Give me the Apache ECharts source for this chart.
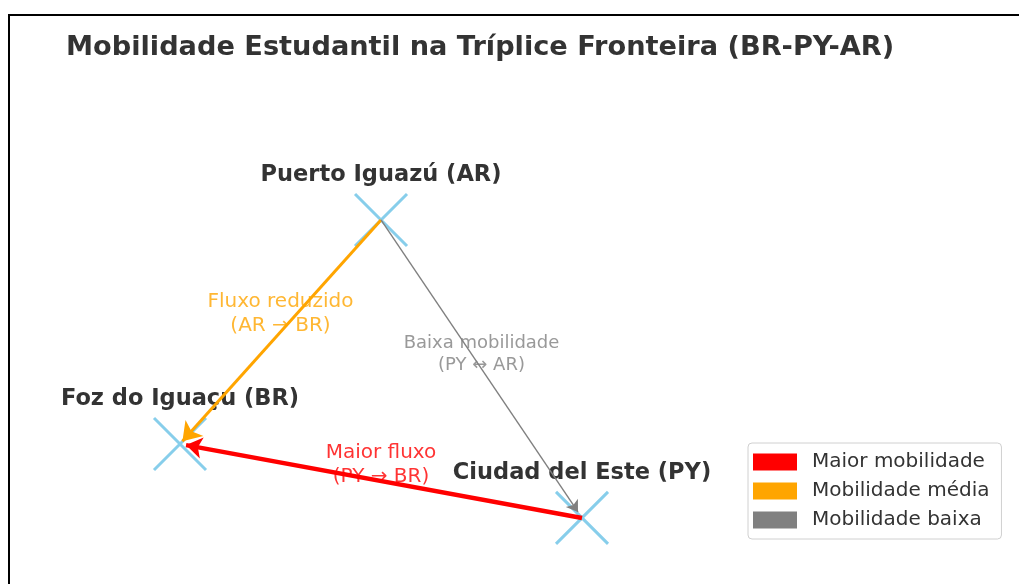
<!DOCTYPE html>
<html>
<head>
<meta charset="utf-8">
<script src="https://cdn.jsdelivr.net/npm/echarts@6/dist/echarts.min.js"></script>
<style>html,body{margin:0;padding:0;background:#fff;}#chart{width:1019px;height:584px;}</style>
</head>
<body>
<div id="chart"></div>
<script>
// ---- data ----
const cities = ['Foz do Iguaçu (BR)', 'Puerto Iguazú (AR)', 'Ciudad del Este (PY)'];
const cityX = [0, 1, 2];
const cityY = [0, 1, -0.33];

const flowNames = ['Maior mobilidade', 'Mobilidade média', 'Mobilidade baixa'];
const flowFrom = [2, 1, 1];
const flowTo = [0, 0, 2];
const flowColors = ['#FF0000', '#FFA500', '#808080'];

const noteTexts = ['Maior fluxo\n(PY → BR)', 'Fluxo reduzido\n(AR → BR)', 'Baixa mobilidade\n(PY ↔ AR)'];
const noteX = [1.0, 0.5, 1.5];
const noteY = [-0.094, 0.58, 0.402];

// ---- chart ----
const FONT = 'DejaVu Sans';
const chart = echarts.init(document.getElementById('chart'), null, {renderer: 'canvas'});

const lineWidths = [4.5, 3, 1.4];
const arrowSizes = [[18, 16], [18, 18], [11, 11]];
const noteSizes = [20, 20, 18];
const noteLH = [24, 24, 22];
const shrink = [0.015, 0.012, 0.02];

const flowSeries = flowNames.map((name, i) => {
  const a = flowFrom[i], b = flowTo[i];
  const x0 = cityX[a], y0 = cityY[a];
  const x1 = cityX[b] + (cityX[a] - cityX[b]) * shrink[i];
  const y1 = cityY[b] + (cityY[a] - cityY[b]) * shrink[i];
  return {
    name: name,
    type: 'lines',
    coordinateSystem: 'cartesian2d',
    clip: false,
    z: 4,
    symbol: ['none', 'arrow'],
    symbolSize: arrowSizes[i],
    lineStyle: {color: flowColors[i], width: lineWidths[i], opacity: 1, curveness: 0},
    itemStyle: {color: flowColors[i]},
    data: [{coords: [[x0, y0], [x1, y1]]}]
  };
});

const option = {
  backgroundColor: '#fff',
  animation: false,
  title: {
    text: 'Mobilidade Estudantil na Tríplice Fronteira (BR-PY-AR)',
    left: 61, top: 29,
    textStyle: {fontFamily: FONT, fontWeight: 'bold', fontSize: 27.2, color: '#333'}
  },
  grid: {left: 0, right: 0, top: 0, bottom: 0},
  xAxis: {type: 'value', min: -0.8955, max: 4.174, show: false},
  yAxis: {type: 'value', min: -0.625, max: 1.982, show: false},
  legend: {
    orient: 'vertical',
    left: 748, top: 443,
    itemWidth: 44, itemHeight: 17, itemGap: 9,
    padding: [9, 12, 9, 5],
    borderColor: '#d0d0d0', borderWidth: 1, borderRadius: 4,
    backgroundColor: '#fff',
    textStyle: {fontFamily: FONT, fontSize: 20, lineHeight: 17, color: '#333', padding: [0, 0, 0, 10]},
    data: flowNames.map((n, i) => ({name: n, icon: 'rect', itemStyle: {color: flowColors[i], borderWidth: 0}, lineStyle: {width: 0}}))
  },
  graphic: [{
    type: 'polyline',
    shape: {points: [[9, 584], [9, 15], [1019, 15]]},
    style: {stroke: '#000', lineWidth: 2, fill: 'none'},
    silent: true
  }],
  series: [
    ...flowSeries,
    {
      type: 'scatter',
      clip: false,
      z: 3,
      symbol: 'path://M0,0L10,10M10,0L0,10',
      symbolSize: 52,
      itemStyle: {color: 'none', borderColor: '#87CEEB', borderWidth: 3, opacity: 1},
      label: {
        show: true,
        position: 'inside',
        offset: [0, -45],
        formatter: p => p.name,
        fontFamily: FONT, fontWeight: 'bold', fontSize: 22.5, color: '#333'
      },
      data: cities.map((c, i) => ({name: c, value: [cityX[i], cityY[i]]}))
    },
    {
      type: 'scatter',
      clip: false,
      z: 5,
      symbolSize: 0,
      itemStyle: {color: 'none'},
      label: {
        show: true,
        position: 'inside',
        formatter: p => p.name,
        fontFamily: FONT
      },
      data: noteTexts.map((t, i) => ({
        name: t,
        value: [noteX[i], noteY[i]],
        label: {color: flowColors[i], fontSize: noteSizes[i], lineHeight: noteLH[i]}
      }))
    }
  ]
};
chart.setOption(option);
</script>
</body>
</html>
